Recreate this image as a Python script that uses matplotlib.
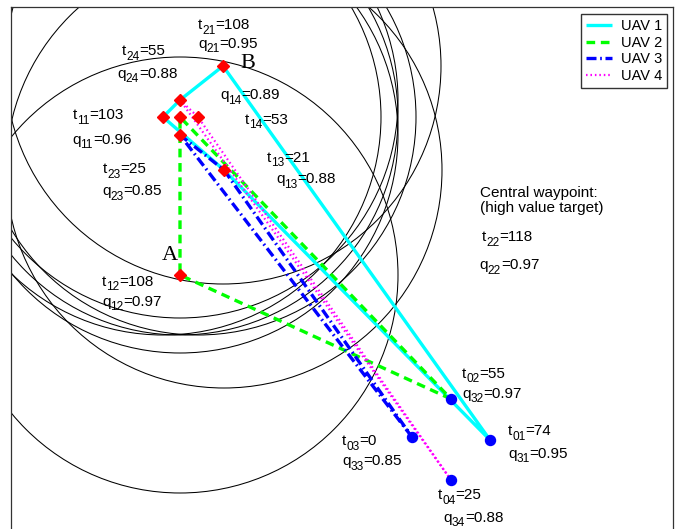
import matplotlib
matplotlib.use('Agg')
import matplotlib.pyplot as plt
from matplotlib.patches import Circle

plt.rcParams['font.family'] = ['Liberation Sans', 'DejaVu Sans']

# ---- data (scenario map coordinates, y grows downwards) ----
# waypoints (red diamonds): 0=B, 1..6 = cluster, 7=A
wp_x = [223, 180, 163, 180, 198, 180, 224, 180]
wp_y = [66, 100, 117, 117, 117, 135, 170, 275]
# UAV start positions (blue dots)
start_x = [490, 451, 412, 451]
start_y = [440, 399, 437, 480]
sensor_radius = 218

uav_names = ['UAV 1', 'UAV 2', 'UAV 3', 'UAV 4']
# routes: -1 = own start point, otherwise waypoint index
uav1_route = [-1, 0, 1, 2, 6, -1]
uav2_route = [-1, 7, 3, -1]
uav3_route = [-1, 5, 6, -1]
uav4_route = [-1, 1, 4, -1]
routes = [uav1_route, uav2_route, uav3_route, uav4_route]

# annotation texts: (symbol, subscript, value)
label_sym = ['t', 'q', 't', 'q', 'q', 't', 't', 'q', 't', 'q', 't', 'q', 't', 'q',
             't', 'q', 't', 'q', 't', 'q', 't', 'q', 't', 'q']
label_sub = ['21', '21', '24', '24', '14', '14', '11', '11', '23', '23', '13', '13',
             '12', '12', '22', '22', '02', '32', '01', '31', '03', '33', '04', '34']
label_val = ['108', '0.95', '55', '0.88', '0.89', '53', '103', '0.96', '25', '0.85',
             '21', '0.88', '108', '0.97', '118', '0.97', '55', '0.97', '74', '0.95',
             '0', '0.85', '25', '0.88']
label_x = [198, 198, 122, 117, 220, 245, 73, 72, 103, 102, 267, 276, 102, 102,
           482, 479, 462, 462, 508, 508, 342, 342, 438, 443]
label_y = [29, 48, 55, 78, 99, 124, 119, 144, 173, 195, 162, 183, 286, 306,
           241, 269, 378, 398, 435, 458, 445, 465, 499, 522]

note_texts = ['Central waypoint:', '(high value target)']
note_x = [480, 480]
note_y = [197, 212]

point_labels = ['A', 'B']
point_label_x = [162, 240]
point_label_y = [260, 68]

# ---- styles ----
colors = ['#00ffff', '#00ff00', '#0000ff', '#ff00ff']
widths = [2.4, 2.4, 2.4, 1.6]
dash_styles = [None, (2.6, 1.7), (3.0, 1.1, 0.5, 1.1), (0.7, 1.3)]

fig = plt.figure(figsize=(6.8, 5.29), dpi=100)
ax = fig.add_axes([11 / 680, (529 - 540) / 529, 662 / 680, 533 / 529])
ax.set_xlim(11, 673)
ax.set_ylim(540, 7)
ax.set_xticks([])
ax.set_yticks([])
for s in ax.spines.values():
    s.set_linewidth(0.9)
    s.set_color('#333333')

for x, y in zip(wp_x, wp_y):
    ax.add_patch(Circle((x, y), sensor_radius, fill=False, ec='black', lw=0.75, zorder=1))

handles = []
for i, r in enumerate(routes):
    xs = [start_x[i] if k < 0 else wp_x[k] for k in r]
    ys = [start_y[i] if k < 0 else wp_y[k] for k in r]
    ln, = ax.plot(xs, ys, color=colors[i], lw=widths[i], label=uav_names[i], zorder=2 + i * 0.1,
                  solid_capstyle='butt', dash_capstyle='butt')
    if dash_styles[i] is not None:
        ln.set_dashes(dash_styles[i])
    handles.append(ln)

ax.plot(wp_x, wp_y, linestyle='none', marker='D', markersize=6.6, color='red', zorder=5)
ax.plot(start_x, start_y, linestyle='none', marker='o', markersize=7.2, color='blue', zorder=5)

renderer = fig.canvas.get_renderer()
MAIN_FS = 11
SUB_FS = 8.6
SUB_DROP = 4.5  # pixels (1 data unit = 1 pixel)
for s, sub, v, x, y in zip(label_sym, label_sub, label_val, label_x, label_y):
    t1 = ax.text(x, y, s, fontsize=MAIN_FS, ha='left', va='baseline', zorder=6)
    w1 = t1.get_window_extent(renderer).width
    t2 = ax.text(x + w1, y + SUB_DROP, sub, fontsize=SUB_FS, ha='left', va='baseline', zorder=6)
    w2 = t2.get_window_extent(renderer).width
    ax.text(x + w1 + w2, y, '=' + v, fontsize=MAIN_FS, ha='left', va='baseline', zorder=6)

for t, x, y in zip(note_texts, note_x, note_y):
    ax.text(x, y, t, fontsize=MAIN_FS, ha='left', va='baseline', zorder=6)

for t, x, y in zip(point_labels, point_label_x, point_label_y):
    ax.text(x, y, t, fontsize=16, ha='left', va='baseline',
            family=['Liberation Serif', 'DejaVu Serif'], zorder=6)

leg = ax.legend(handles=handles, loc='upper right', bbox_to_anchor=(667 / 680, 1 - 14 / 529),
                bbox_transform=fig.transFigure, borderaxespad=0, fontsize=10.5, frameon=True,
                fancybox=False, handlelength=1.75, handletextpad=0.6, labelspacing=0.18,
                borderpad=0.35)
leg.get_frame().set_edgecolor('black')
leg.get_frame().set_linewidth(1.0)

fig.savefig('out.png', dpi=100)
